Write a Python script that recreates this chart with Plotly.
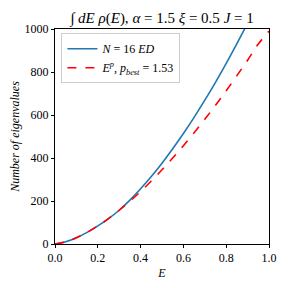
import plotly.graph_objects as go

E_vals = [0.0, 0.05, 0.10, 0.15, 0.20, 0.25, 0.30, 0.35, 0.40, 0.45, 0.50,
          0.55, 0.60, 0.65, 0.70, 0.75, 0.80, 0.85, 0.90, 0.95, 1.00]
ed_counts = [0, 10, 29, 54, 84, 118, 157, 204, 257, 314, 376,
             443, 514, 589, 669, 752, 840, 932, 1027, None, None]
fit_counts = [0, 10, 29, 54, 84, 118, 157, 199, 244, 293, 345,
              400, 457, 517, 580, 645, 713, 783, 855, 930, 990]

x_ticks = [0.0, 0.2, 0.4, 0.6, 0.8, 1.0]
y_ticks = [0, 200, 400, 600, 800, 1000]

font_family = "Liberation Serif, serif"

fig = go.Figure()
fig.add_trace(go.Scatter(
    x=E_vals, y=ed_counts, mode="lines", line=dict(color="#1f77b4", width=1.6, shape="spline"),
    name="<i>N</i> = 16 <i>ED</i>", legendgroup="a"))
fig.add_trace(go.Scatter(
    x=E_vals, y=fit_counts, mode="lines", line=dict(color="red", width=1.6, dash="dash", shape="spline"),
    name="<i>E<sup>p</sup></i>, <i>p<sub>best</sub></i> = 1.53", legendgroup="b"))

axis_common = dict(showline=True, linecolor="black", linewidth=1, mirror=True,
                   ticks="outside", ticklen=3, tickcolor="black", showgrid=False, zeroline=False,
                   automargin=False,
                   tickfont=dict(family=font_family, size=12, color="black"))

fig.update_layout(
    width=280, height=280,
    margin=dict(l=47, r=19, t=21, b=44),
    paper_bgcolor="white", plot_bgcolor="white",
    font=dict(family=font_family, color="black", size=12),
    title=dict(text="∫ <i>dE ρ</i>(<i>E</i>), <i>α</i> = 1.5 <i>ξ</i> = 0.5 <i>J</i> = 1",
               x=0.55, xanchor="center", y=0.965, yanchor="middle",
               font=dict(family=font_family, size=15, color="black")),
    xaxis=dict(range=[0, 1], tickvals=x_ticks, ticktext=[f"{v:.1f}" for v in x_ticks],
               title=dict(text="<i>E</i>", standoff=4, font=dict(size=12)), **axis_common),
    yaxis=dict(range=[0, 1000], tickvals=y_ticks, ticktext=[str(v) for v in y_ticks],
               title=dict(text="<i>Number of eigenvalues</i>", standoff=4, font=dict(size=12)), **axis_common),
    legend=dict(x=0.03, y=0.98, xanchor="left", yanchor="top", bgcolor="white",
                bordercolor="#cccccc", borderwidth=1, font=dict(size=12),
                tracegroupgap=0),
    showlegend=True,
)

fig.write_html("out.html")
